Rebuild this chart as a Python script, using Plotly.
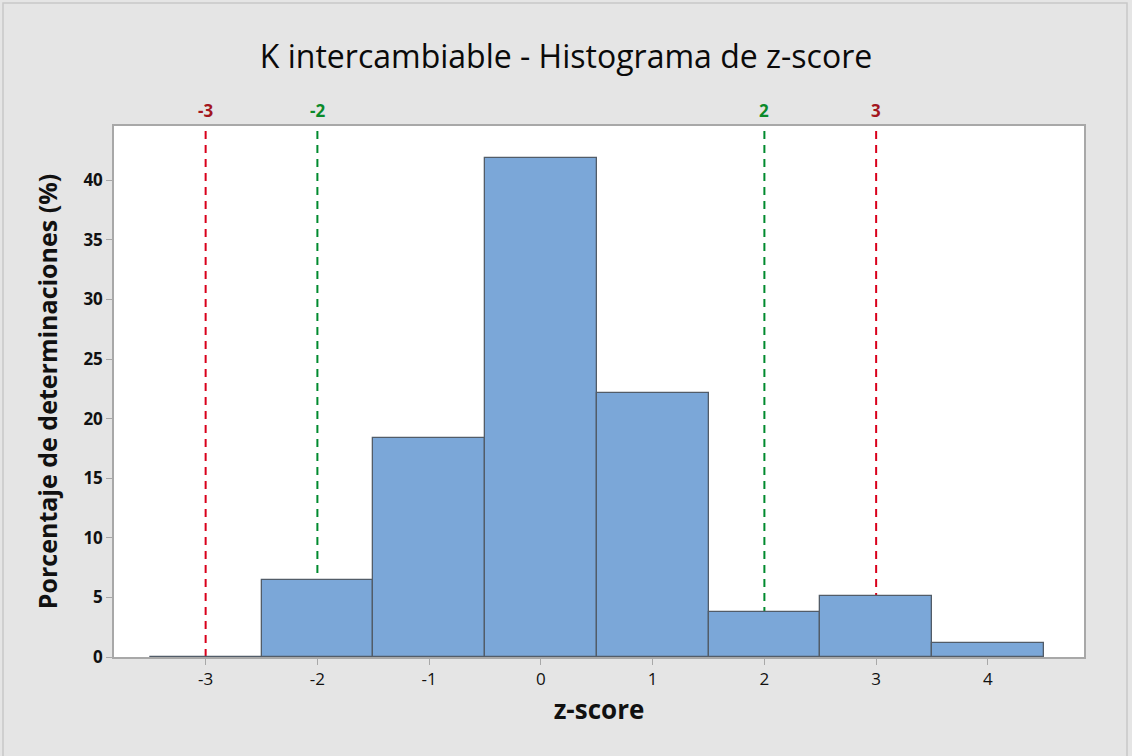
import plotly.graph_objects as go

bin_centers = [-3, -2, -1, 0, 1, 2, 3, 4]
percentages = [0.0, 6.45, 18.4, 41.9, 22.15, 3.8, 5.15, 1.15]
ref_values = [-3, -2, 2, 3]
ref_labels = ["-3", "-2", "2", "3"]
ref_kind = ["red", "green", "green", "red"]
x_ticks = [-3, -2, -1, 0, 1, 2, 3, 4]
y_ticks = [0, 5, 10, 15, 20, 25, 30, 35, 40]

line_colors = {"red": "#d9001b", "green": "#008a2e"}
label_colors = {"red": "#a3161e", "green": "#0b8a2a"}

W, H = 1132, 756
ml, mr, mt, mb = 114, 48, 126, 99
pw, ph = W - ml - mr, H - mt - mb
FONT = "Open Sans, DejaVu Sans"

fig = go.Figure()
fig.add_trace(go.Bar(
    x=bin_centers, y=percentages, width=1.0,
    marker=dict(color="#7ba7d8", line=dict(color="#525c68", width=1.3)),
    hoverinfo="x+y", showlegend=False,
))

shapes = []
annotations = []
for v, lab, k in zip(ref_values, ref_labels, ref_kind):
    shapes.append(dict(type="line", xref="x", yref="paper", x0=v, x1=v, y0=0, y1=1,
                       line=dict(color=line_colors[k], width=2, dash="8px,6px"), layer="below"))
    annotations.append(dict(x=v, xref="x", y=1, yref="paper", yanchor="bottom", yshift=2,
                            text="<b>%s</b>" % lab, showarrow=False,
                            font=dict(family=FONT, size=17, color=label_colors[k])))

# zero-height bin line at -3
shapes.append(dict(type="line", xref="x", yref="y", x0=-3.5, x1=-2.5, y0=0, y1=0,
                   line=dict(color="#525c68", width=1.3), layer="above"))
# outer figure border
shapes.append(dict(type="rect", xref="paper", yref="paper",
                   x0=(3 - ml) / pw, x1=(W - 5 - ml) / pw,
                   y0=-(mb + 10) / ph, y1=1 + (mt - 3) / ph,
                   line=dict(color="#c8c8c8", width=1.5), fillcolor="rgba(0,0,0,0)", layer="below"))

fig.update_layout(
    width=W, height=H,
    margin=dict(l=ml, r=mr, t=mt, b=mb),
    paper_bgcolor="#e5e5e5", plot_bgcolor="#ffffff",
    title=dict(text="K intercambiable - Histograma de z-score", x=0.5, xanchor="center",
               y=1 - 57 / H, yanchor="middle",
               font=dict(family=FONT, size=32, color="#0a0a0a")),
    font=dict(family=FONT, color="#111111"),
    shapes=shapes, annotations=annotations,
    bargap=0,
)
fig.update_xaxes(
    range=[-3.82, 4.86], tickvals=x_ticks, ticktext=[str(t) for t in x_ticks],
    showgrid=False, zeroline=False, showline=True, linecolor="#a8a8a8", linewidth=1.5, mirror=True,
    ticks="outside", ticklen=6, tickcolor="#a8a8a8",
    tickfont=dict(size=17, color="#111111"),
    title=dict(text="<b>z-score</b>", font=dict(size=26), standoff=12),
)
fig.update_yaxes(
    range=[0, 44.55], tickvals=y_ticks, ticktext=["<b>%d</b>" % t for t in y_ticks],
    showgrid=False, zeroline=False, showline=True, linecolor="#a8a8a8", linewidth=1.5, mirror=True,
    ticks="outside", ticklen=6, tickcolor="#a8a8a8",
    tickfont=dict(size=17, color="#111111"),
    title=dict(text="<b>Porcentaje de determinaciones (%)</b>", font=dict(size=25), standoff=19),
)

fig.write_html("out.html", config={"displayModeBar": False},
               post_script="document.body.style.margin='0';document.body.style.overflow='hidden';")
